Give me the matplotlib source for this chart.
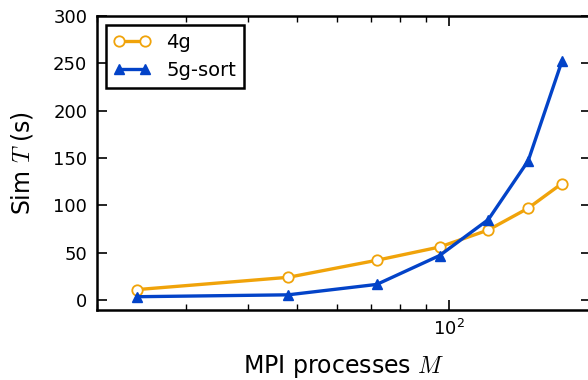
import matplotlib
matplotlib.use("Agg")
import matplotlib.pyplot as plt
from matplotlib.ticker import NullFormatter, FixedLocator

M = [24, 48, 72, 96, 120, 144, 168]
t_4g = [11, 24, 42, 56, 74, 97, 123]
t_5g_sort = [3.5, 5.5, 16.5, 47, 85, 147, 252]
yticks = [0, 50, 100, 150, 200, 250, 300]

plt.rcParams['mathtext.fontset'] = 'cm'
plt.rcParams['font.family'] = 'DejaVu Sans'

fig = plt.figure(figsize=(5.88, 3.80), dpi=100)
W, H = 588, 380
left, right, top, bottom = 97, 591, 16, 309.5
ax = fig.add_axes([left / W, (H - bottom) / H, (right - left) / W, (bottom - top) / H])

ax.plot(M, t_4g, color='#f0a30a', lw=2.4, marker='o', ms=7.5,
        mfc='white', mec='#f0a30a', mew=1.3, label='4g')
ax.plot(M, t_5g_sort, color='#0343c8', lw=2.4, marker='^', ms=7.2,
        mfc='#0343c8', mec='#0343c8', label='5g-sort')

ax.set_xscale('log')
ax.set_xlim(20, 192)
ax.set_ylim(-10, 300)
ax.set_yticks(yticks)
ax.xaxis.set_major_locator(FixedLocator([100]))
ax.xaxis.set_minor_locator(FixedLocator([20, 30, 40, 50, 60, 70, 80, 90]))
ax.xaxis.set_minor_formatter(NullFormatter())

for s in ax.spines.values():
    s.set_linewidth(1.8)

ax.tick_params(which='both', direction='in', top=True, right=True, labelsize=13)
ax.tick_params(which='major', length=7.5, width=1.2, pad=7)
ax.tick_params(which='minor', length=4, width=1.0)

ax.set_xlabel('MPI processes $M$', fontsize=17, labelpad=10)
ax.set_ylabel('Sim $T$ (s)', fontsize=17, labelpad=13)

leg = ax.legend(loc='upper left', numpoints=2, fontsize=14, fancybox=False,
                framealpha=1, edgecolor='black', handlelength=1.9,
                borderaxespad=0.45, labelspacing=0.5)
leg.get_frame().set_linewidth(1.8)

fig.savefig('out.png', dpi=100)
